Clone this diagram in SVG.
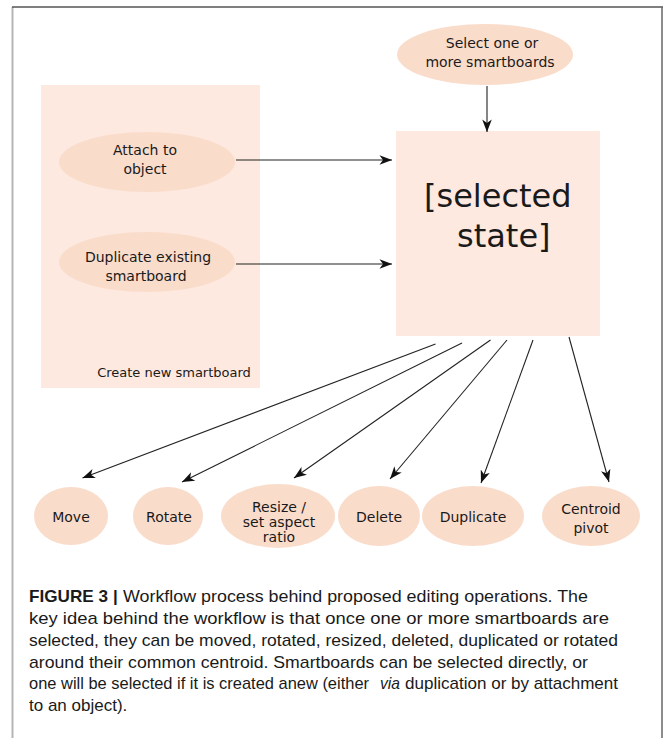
<svg xmlns="http://www.w3.org/2000/svg" width="663" height="738" viewBox="0 0 663 738">
<style>
.ell{fill:#fadccb}
.box{fill:#fde9df}
.t{font-family:"DejaVu Sans",Verdana,sans-serif;font-size:14px;fill:#1a1a1a;text-anchor:middle}
.big{font-family:"DejaVu Sans",Verdana,sans-serif;font-size:32px;fill:#1a1a1a}
.cap{font-family:"Liberation Sans",Arial,sans-serif;font-size:17px;fill:#1a1a1a}
.con{stroke:#222;stroke-width:1.1;fill:none;marker-end:url(#ah)}
</style>
<defs>
<marker id="ah" viewBox="-13 -5 13 10" refX="0" refY="0" markerWidth="13" markerHeight="10" markerUnits="userSpaceOnUse" orient="auto">
<path d="M0,0 L-12.5,-4.8 L-9,0 L-12.5,4.8 Z" fill="#111"/>
</marker>
</defs>
<rect x="0" y="0" width="663" height="738" fill="#fff"/>
<line x1="12.5" y1="7" x2="12.5" y2="738" stroke="#b5b5b5" stroke-width="2"/>
<line x1="12" y1="7" x2="663" y2="7" stroke="#555" stroke-width="1.5"/>
<line x1="662" y1="7" x2="662" y2="738" stroke="#666" stroke-width="1.5"/>

<g id="create-new-smartboard">
<rect class="box" x="41" y="85" width="219" height="303"/>
<text class="t" x="174" y="377" style="font-size:13px">Create new smartboard</text>
</g>
<g id="select">
<ellipse class="ell" cx="485" cy="54.5" rx="88" ry="30.5"/>
<text class="t" x="492" y="48">Select one or</text>
<text class="t" x="490" y="67">more smartboards</text>
</g>
<g id="selected-state">
<rect class="box" x="396" y="131" width="204" height="205"/>
<text class="big" x="424" y="207">[selected</text>
<text class="big" x="457" y="247">state]</text>
</g>
<g id="attach">
<ellipse class="ell" cx="147" cy="162" rx="88" ry="30"/>
<text class="t" x="145" y="155">Attach to</text>
<text class="t" x="145" y="174">object</text>
</g>
<g id="duplicate-existing">
<ellipse class="ell" cx="147" cy="262" rx="88" ry="30"/>
<text class="t" x="148" y="262">Duplicate existing</text>
<text class="t" x="146" y="281">smartboard</text>
</g>
<g id="move">
<ellipse class="ell" cx="71" cy="516" rx="37" ry="29"/>
<text class="t" x="71" y="522">Move</text>
</g>
<g id="rotate">
<ellipse class="ell" cx="168" cy="516" rx="35" ry="29"/>
<text class="t" x="169" y="522">Rotate</text>
</g>
<g id="resize">
<ellipse class="ell" cx="278" cy="516" rx="57" ry="32"/>
<text class="t" x="279" y="512">Resize /</text>
<text class="t" x="279" y="527">set aspect</text>
<text class="t" x="279" y="542">ratio</text>
</g>
<g id="delete">
<ellipse class="ell" cx="379" cy="516" rx="41" ry="30"/>
<text class="t" x="379" y="522">Delete</text>
</g>
<g id="duplicate">
<ellipse class="ell" cx="473" cy="516" rx="51" ry="30"/>
<text class="t" x="473" y="522">Duplicate</text>
</g>
<g id="centroid-pivot">
<ellipse class="ell" cx="591" cy="516" rx="49" ry="30"/>
<text class="t" x="591" y="514">Centroid</text>
<text class="t" x="591" y="533">pivot</text>
</g>

<g id="connectors">
<line class="con" x1="487" y1="86" x2="487" y2="132"/>
<line class="con" x1="236" y1="160" x2="392" y2="160"/>
<line class="con" x1="236" y1="264" x2="392" y2="264"/>
<line class="con" x1="435.5" y1="344" x2="82.5" y2="478"/>
<line class="con" x1="462" y1="343" x2="182" y2="482"/>
<line class="con" x1="490.5" y1="340" x2="294" y2="478"/>
<line class="con" x1="507" y1="340" x2="390" y2="479"/>
<line class="con" x1="533" y1="340" x2="481" y2="483"/>
<line class="con" x1="569" y1="337" x2="609" y2="482"/>
</g>

<g id="caption">
<text class="cap" x="29" y="602" style="font-weight:bold" textLength="79" lengthAdjust="spacingAndGlyphs">FIGURE 3</text>
<text class="cap" x="113" y="602" style="font-weight:bold">|</text>
<text class="cap" x="123" y="602" textLength="465" lengthAdjust="spacingAndGlyphs">Workflow process behind proposed editing operations. The</text>
<text class="cap" x="29" y="624" textLength="580" lengthAdjust="spacingAndGlyphs">key idea behind the workflow is that once one or more smartboards are</text>
<text class="cap" x="29" y="646" textLength="589" lengthAdjust="spacingAndGlyphs">selected, they can be moved, rotated, resized, deleted, duplicated or rotated</text>
<text class="cap" x="29" y="668" textLength="559" lengthAdjust="spacingAndGlyphs">around their common centroid. Smartboards can be selected directly, or</text>
<text class="cap" x="29" y="689" textLength="340" lengthAdjust="spacingAndGlyphs">one will be selected if it is created anew (either</text>
<text class="cap" x="380" y="689" style="font-style:italic" textLength="20" lengthAdjust="spacingAndGlyphs">via</text>
<text class="cap" x="405" y="689" textLength="213" lengthAdjust="spacingAndGlyphs">duplication or by attachment</text>
<text class="cap" x="29" y="711">to an object).</text>
</g>
</svg>
